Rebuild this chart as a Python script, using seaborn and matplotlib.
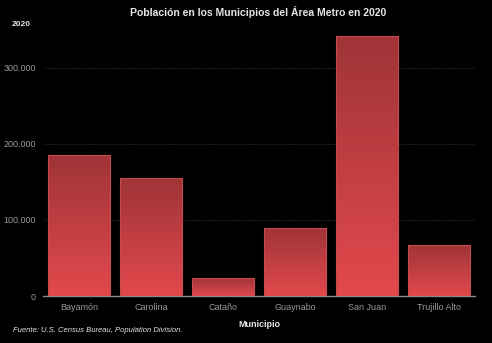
import numpy as np
import pandas as pd
import matplotlib
matplotlib.use("Agg")
import matplotlib.pyplot as plt
import seaborn as sns
from matplotlib.colors import LinearSegmentedColormap

municipios = ["Bayamón", "Carolina", "Cataño", "Guaynabo", "San Juan", "Trujillo Alto"]
poblacion = [185187, 154815, 23155, 89780, 342259, 67740]
yticks = [0, 100000, 200000, 300000]
ytick_labels = ["0", "100.000", "200.000", "300.000"]

sns.set_style("dark")
plt.rcParams['font.family'] = ['Liberation Sans', 'DejaVu Sans']

df = pd.DataFrame({"Municipio": municipios, "Poblacion": poblacion})

fig = plt.figure(figsize=(4.92, 3.43), dpi=100, facecolor="black")
ax = fig.add_axes([43/492, 1-296/343, 432/492, 263/343])
ax.set_facecolor("black")

sns.barplot(data=df, x="Municipio", y="Poblacion", color="#c0403f", width=0.87,
            ax=ax, saturation=1, edgecolor="#c8484b", linewidth=0.8, zorder=3)

cmap = LinearSegmentedColormap.from_list("g", ["#e2494d", "#9f3437"])
grad = np.linspace(0, 1, 256).reshape(-1, 1)
ax.set_ylim(0, 346000)
ax.set_xlim(-0.5, 5.5)
for p in ax.patches:
    x0, y0 = p.get_x(), p.get_y()
    w, h = p.get_width(), p.get_height()
    im = ax.imshow(grad, cmap=cmap, aspect="auto", origin="lower",
                   extent=[x0, x0 + w, y0, y0 + h], zorder=3.5)
    im.set_clip_path(p)
    p.set_facecolor("none")
    p.set_zorder(4)
ax.set_ylim(0, 346000)
ax.set_xlim(-0.5, 5.5)

ax.set_yticks(yticks)
ax.set_yticklabels(ytick_labels)
ax.grid(False)
for yv in yticks[1:]:
    ax.axhline(yv, color="#262626", linestyle=(0, (1, 1)), linewidth=0.8, zorder=1)

for s in ["top", "right", "left"]:
    ax.spines[s].set_visible(False)
ax.spines["bottom"].set_color("#888888")
ax.spines["bottom"].set_linewidth(1)

ax.tick_params(axis="x", colors="#999999", labelsize=6.5, length=3, width=0.8, pad=2)
ax.tick_params(axis="x", color="#888888")
ax.tick_params(axis="y", colors="#999999", labelsize=6.5, length=3, width=0.8, pad=2)
ax.tick_params(axis="y", color="#888888")

ax.set_xlabel("Municipio", color="#e6e6e6", fontsize=6.5, fontweight="bold", labelpad=6)
ax.set_ylabel("")

fig.text(258/492, 1-12/343, "Población en los Municipios del Área Metro en 2020",
         ha="center", va="center", color="#e6e6e6", fontsize=7.5, fontweight="bold")
fig.text(12/492, 1-25/343, "2020", ha="left", va="center", color="#e6e6e6",
         fontsize=6, fontweight="bold")
fig.text(13/492, 1-331/343, "Fuente: U.S. Census Bureau, Population Division.",
         ha="left", va="center", color="#e6e6e6", fontsize=5.5, style="italic")

fig.savefig("out.png", dpi=100, facecolor="black")
